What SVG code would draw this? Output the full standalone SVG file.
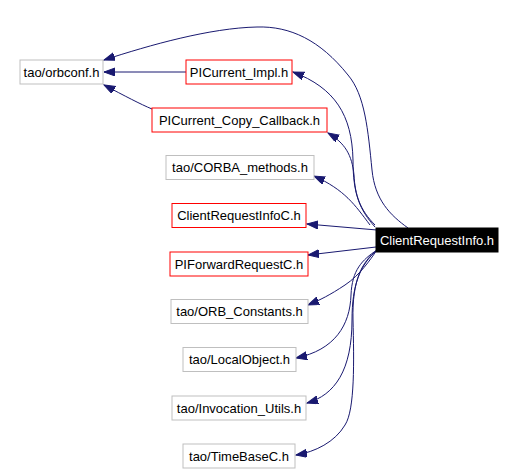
<svg xmlns="http://www.w3.org/2000/svg" width="515" height="474" viewBox="0 0 515 474">
<style>
text{font-family:"Liberation Sans",Arial,sans-serif;font-size:13px;text-anchor:middle;fill:#000}
.g{fill:#fff;stroke:#bfbfbf;stroke-width:1}
.r{fill:#fff;stroke:#ff0000;stroke-width:1}
.e{fill:none;stroke:#191970;stroke-width:1;marker-end:url(#ah)}
</style>
<defs>
<marker id="ah" markerUnits="userSpaceOnUse" markerWidth="12" markerHeight="9" refX="11" refY="4" orient="auto" viewBox="0 0 12 9">
<path d="M0,0 L11,4 L0,8 z" fill="#191970" stroke="#191970"/>
</marker>
</defs>
<rect width="515" height="474" fill="#fff"/>
<g id="edges">
<path class="e" d="M408,228 C390,215 375,200 372,170 C368,130 365,95 348,75 C320,40 290,26 257,27 C210,28 150,45 104,60"/>
<path class="e" d="M186,72 L104,72"/>
<path class="e" d="M152,109 C140,104 125,96 104,85"/>
<path class="e" d="M375,227 C360,210 353,195 353,160 C352,115 335,88 293,72"/>
<path class="e" d="M375,225 C360,210 355,195 354,175 C352,155 345,143 328,133"/>
<path class="e" d="M370,225 C355,205 345,190 314,176"/>
<path class="e" d="M377,230 L307,224"/>
<path class="e" d="M376,247 L308,255"/>
<path class="e" d="M377,250 C370,260 360,275 345,285 C330,295 320,300 308,305"/>
<path class="e" d="M377,250 C362,260 352,270 351,295 C350,325 335,350 296,358"/>
<path class="e" d="M377,250 C360,265 352,285 352,320 C352,370 335,395 307,403"/>
<path class="e" d="M377,250 C362,262 352,280 353,320 C354,360 355,410 345,425 C335,442 315,452 296,455"/>
</g>
<g id="n_orbconf"><rect class="g" x="20" y="60" width="83" height="24"/><text x="61.5" y="76.5">tao/orbconf.h</text></g>
<g id="n_picurrent_impl"><rect class="r" x="186" y="60" width="106" height="24"/><text x="239" y="76.5">PICurrent_Impl.h</text></g>
<g id="n_picurrent_copy"><rect class="r" x="152" y="108" width="175" height="24"/><text x="239.5" y="124.5">PICurrent_Copy_Callback.h</text></g>
<g id="n_corba_methods"><rect class="g" x="166" y="155.5" width="148" height="24"/><text x="240" y="172">tao/CORBA_methods.h</text></g>
<g id="n_clientrequestinfoc"><rect class="r" x="172" y="203.5" width="134" height="24"/><text x="239" y="220">ClientRequestInfoC.h</text></g>
<g id="n_piforwardrequestc"><rect class="r" x="170" y="252" width="138" height="24"/><text x="239" y="268.5">PIForwardRequestC.h</text></g>
<g id="n_orb_constants"><rect class="g" x="171" y="299.5" width="137" height="24"/><text x="239.5" y="316">tao/ORB_Constants.h</text></g>
<g id="n_localobject"><rect class="g" x="183" y="347.5" width="113" height="24"/><text x="239.5" y="364">tao/LocalObject.h</text></g>
<g id="n_invocation_utils"><rect class="g" x="172" y="396" width="134" height="24"/><text x="239" y="412.5">tao/Invocation_Utils.h</text></g>
<g id="n_timebasec"><rect class="g" x="183" y="444" width="112" height="24"/><text x="239" y="460.5">tao/TimeBaseC.h</text></g>
<g id="n_clientrequestinfo"><rect x="376" y="228" width="122" height="24" fill="#000" stroke="#000"/><text x="437" y="244.5" style="fill:#fff">ClientRequestInfo.h</text></g>
</svg>
